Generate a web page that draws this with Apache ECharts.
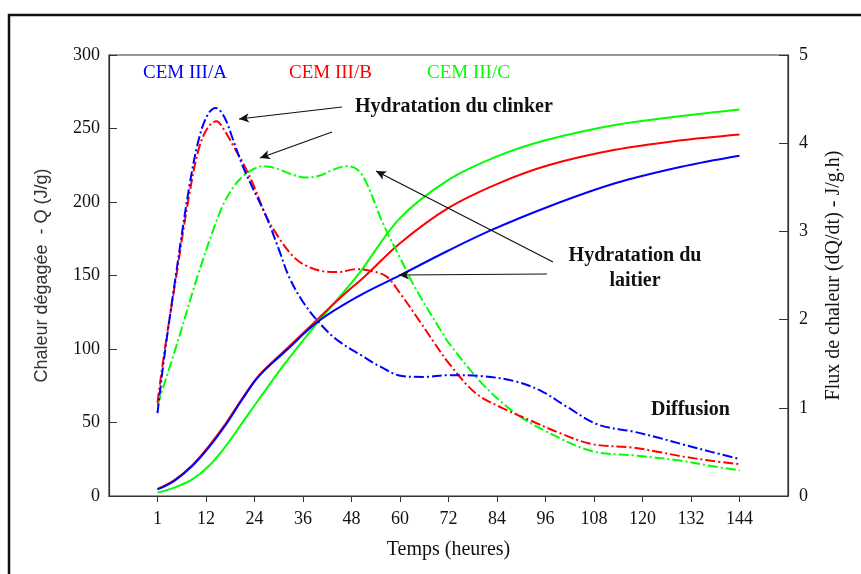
<!DOCTYPE html>
<html>
<head>
<meta charset="utf-8">
<script src="https://cdn.jsdelivr.net/npm/echarts@6/dist/echarts.min.js"></script>
<style>html,body{margin:0;padding:0;background:#fff}#c{width:861px;height:574px}</style>
</head>
<body>
<div id="c"></div>
<script>
// x tick labels (the first tick, labelled "1", stands at the start of the test)
const xTickHours = [0, 12, 24, 36, 48, 60, 72, 84, 96, 108, 120, 132, 144];
const xTickLabels = ['1', '12', '24', '36', '48', '60', '72', '84', '96', '108', '120', '132', '144'];

// Cumulative heat Q (J/g) - left axis
const qTimeA = [0, 4, 8.6, 12.7, 16.9, 21, 25.1, 31.7, 39.9, 49.8, 59.7, 72, 82.7, 96.7, 113.2, 129.6, 144];
const qA     = [4.5, 10, 20.4, 33, 48.5, 65.8, 81.6, 98.6, 119, 136, 149.7, 167, 181, 196.8, 212.7, 224, 231.5];
const qTimeB = [0, 4, 8.6, 12.7, 16.9, 21, 25.1, 31.7, 39.9, 45.7, 51.4, 60, 72, 84.4, 96.7, 113.2, 129.6, 144];
const qB     = [4.8, 10.5, 21, 34, 49.5, 66.5, 82, 99.5, 121, 136, 149.7, 172, 196, 212.7, 225, 235.5, 242, 246];
const qTimeC = [0, 4, 8.6, 12.7, 16.9, 21, 25.1, 31.7, 39.9, 49.4, 60, 72, 84, 96, 113.2, 129.6, 144];
const qC     = [2.3, 5.5, 11.3, 20.4, 34, 49.9, 65.8, 90.7, 119, 149.7, 189, 215, 231, 242, 252.4, 258.5, 263];

// Heat flux dQ/dt (J/g.h) - right axis
const fTimeA = [0, 1.6, 4.5, 7.8, 10.3, 12.5, 14.4, 16.5, 19, 21, 24, 26.7, 30, 32.5, 36, 40.7, 45, 50.6, 55, 60.5, 66, 72, 80, 88.5, 95, 101, 109, 117.7, 124, 129.6, 137, 144];
const fA     = [0.94, 1.55, 2.49, 3.49, 4.06, 4.33, 4.40, 4.30, 4.0, 3.75, 3.45, 3.19, 2.8, 2.49, 2.2, 1.93, 1.75, 1.59, 1.47, 1.36, 1.35, 1.37, 1.36, 1.30, 1.19, 1.02, 0.81, 0.73, 0.66, 0.59, 0.50, 0.42];
const fTimeB = [0, 1.6, 4.5, 7.8, 10.3, 12.5, 14.6, 16.5, 19, 21, 24, 26.7, 30, 33.3, 36, 40.7, 45, 49, 52, 56.6, 60, 64.6, 68, 72, 78.6, 85.2, 92.6, 99.2, 107.4, 117.3, 124, 129.6, 137, 144];
const fB     = [1.06, 1.6, 2.45, 3.40, 3.95, 4.18, 4.25, 4.15, 3.95, 3.79, 3.5, 3.19, 2.93, 2.73, 2.63, 2.55, 2.54, 2.57, 2.56, 2.49, 2.3, 2.0, 1.77, 1.51, 1.17, 1.0, 0.85, 0.72, 0.59, 0.55, 0.50, 0.45, 0.40, 0.36];
const fTimeC = [0, 5, 9.9, 15.2, 18, 21, 23.5, 25.9, 29, 33, 36.6, 40, 43.5, 46.9, 49.5, 51.7, 55.8, 59.9, 64, 70.6, 72, 80.2, 88.5, 96.7, 107.4, 118, 129.6, 137, 144];
const fC     = [1.03, 1.75, 2.49, 3.19, 3.45, 3.62, 3.70, 3.74, 3.72, 3.65, 3.61, 3.63, 3.70, 3.74, 3.70, 3.55, 3.09, 2.71, 2.34, 1.84, 1.74, 1.28, 0.94, 0.72, 0.51, 0.46, 0.40, 0.34, 0.29];

const names = ['CEM III/A', 'CEM III/B', 'CEM III/C'];
const colors = ['#0000FF', '#FF0000', '#00FF00'];

const zip = (xs, ys) => xs.map((x, i) => [x, ys[i]]);
const serif = 'Liberation Serif';
const dashDot = [10, 3, 2, 3];

const chart = echarts.init(document.getElementById('c'), null, {renderer: 'canvas'});

function solid(name, color, xs, ys) {
  return {name, type: 'line', yAxisIndex: 0, data: zip(xs, ys), showSymbol: false, smooth: 0.35,
    lineStyle: {color, width: 2}, itemStyle: {color}, silent: true};
}
function flux(name, color, xs, ys) {
  return {name, type: 'line', yAxisIndex: 1, data: zip(xs, ys), showSymbol: false, smooth: 0.35,
    lineStyle: {color, width: 2, type: dashDot}, itemStyle: {color}, silent: true};
}

const arrowSeries = {
  type: 'line', data: [], silent: true,
  markLine: {
    silent: true, symbol: ['none', 'arrow'], symbolSize: [7, 10], animation: false,
    label: {show: false}, lineStyle: {color: '#111', width: 1.2, type: 'solid'},
    emphasis: {disabled: true},
    data: [
      [{x: 342, y: 107}, {x: 239, y: 119}],
      [{x: 332, y: 132}, {x: 260, y: 158}],
      [{x: 553, y: 262}, {x: 376, y: 171}],
      [{x: 547, y: 274}, {x: 399, y: 275}]
    ]
  }
};

const option = {
  backgroundColor: '#fff',
  animation: false,
  grid: {left: 109, right: 73, top: 55, bottom: 78, show: true, borderColor: '#333', borderWidth: 1.2, backgroundColor: 'transparent'},
  xAxis: {
    type: 'value', min: -12, max: 156,
    name: 'Temps (heures)', nameLocation: 'middle', nameGap: 44,
    nameTextStyle: {fontFamily: serif, fontSize: 20, color: '#111'},
    axisLine: {show: true, onZero: false, lineStyle: {color: '#333', width: 1.2}},
    axisTick: {show: true, inside: false, length: 6, customValues: xTickHours, lineStyle: {color: '#333'}},
    axisLabel: {customValues: xTickHours, margin: 14, fontFamily: serif, fontSize: 18, color: '#111',
      formatter: v => { const i = xTickHours.indexOf(v); return i >= 0 ? xTickLabels[i] : ''; }},
    splitLine: {show: false}
  },
  yAxis: [
    {
      type: 'value', min: 0, max: 300, interval: 50, position: 'left',
      name: 'Chaleur dégagée  - Q (J/g)', nameLocation: 'middle', nameGap: 58, nameRotate: 90,
      nameTextStyle: {fontFamily: 'Liberation Sans', fontSize: 18, color: '#333'},
      axisLine: {show: true, onZero: false, lineStyle: {color: '#333', width: 1.2}},
      axisTick: {show: true, inside: true, length: 8, lineStyle: {color: '#333'}},
      axisLabel: {margin: 9, fontFamily: serif, fontSize: 18, color: '#111'},
      splitLine: {show: false}
    },
    {
      type: 'value', min: 0, max: 5, interval: 1, position: 'right',
      name: 'Flux de chaleur (dQ/dt) - J/g.h)', nameLocation: 'middle', nameGap: 36, nameRotate: 90,
      nameTextStyle: {fontFamily: serif, fontSize: 20, color: '#111'},
      axisLine: {show: true, onZero: false, lineStyle: {color: '#333', width: 1.2}},
      axisTick: {show: true, inside: true, length: 9, lineStyle: {color: '#333'}},
      axisLabel: {margin: 11, fontFamily: serif, fontSize: 18, color: '#111'},
      splitLine: {show: false}
    }
  ],
  series: [
    solid(names[2], colors[2], qTimeC, qC),
    solid(names[1], colors[1], qTimeB, qB),
    solid(names[0], colors[0], qTimeA, qA),
    flux(names[2], colors[2], fTimeC, fC),
    flux(names[1], colors[1], fTimeB, fB),
    flux(names[0], colors[0], fTimeA, fA),
    arrowSeries
  ],
  graphic: [
    {type: 'rect', shape: {x: 9, y: 15, width: 1000, height: 1000}, style: {fill: 'none', stroke: '#111', lineWidth: 2.5}, silent: true},
    {type: 'text', left: 143, top: 64, style: {text: names[0], fill: colors[0], font: '19px "Liberation Serif"'}},
    {type: 'text', left: 289, top: 64, style: {text: names[1], fill: colors[1], font: '19px "Liberation Serif"'}},
    {type: 'text', left: 427, top: 64, style: {text: names[2], fill: colors[2], font: '19px "Liberation Serif"'}},
    {type: 'text', x: 355, y: 107, style: {text: 'Hydratation du clinker', fill: '#111', font: 'bold 20px "Liberation Serif"', textVerticalAlign: 'middle'}},
    {type: 'text', x: 635, y: 268, style: {text: 'Hydratation du\nlaitier', fill: '#111', font: 'bold 20px "Liberation Serif"', textAlign: 'center', textVerticalAlign: 'middle', lineHeight: 25}},
    {type: 'text', x: 651, y: 410, style: {text: 'Diffusion', fill: '#111', font: 'bold 20px "Liberation Serif"', textVerticalAlign: 'middle'}}
  ]
};
chart.setOption(option);
</script>
</body>
</html>
